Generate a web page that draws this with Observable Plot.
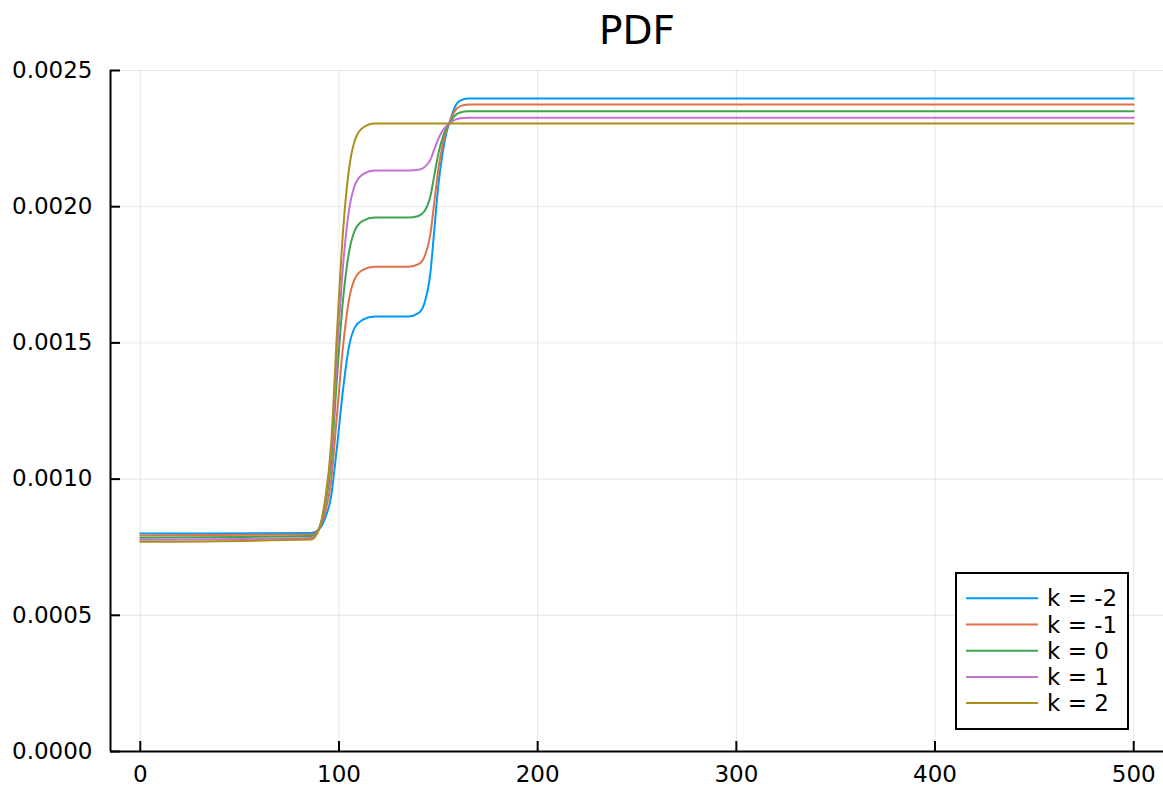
<!DOCTYPE html>
<html>
<head>
<meta charset="utf-8">
<script src="https://cdn.jsdelivr.net/npm/d3@7"></script>
<script src="https://cdn.jsdelivr.net/npm/@observablehq/plot@0.6"></script>
<style>
  html, body { margin: 0; padding: 0; background: #fff; }
  #wrap { position: relative; width: 1163px; height: 786px; font-family: "DejaVu Sans", sans-serif; }
  #legend { position: absolute; left: 955px; top: 572px; }
</style>
</head>
<body>
<div id="wrap"></div>
<script>
// ---- data ----
const title = "PDF";
const seriesNames = ["k = -2", "k = -1", "k = 0", "k = 1", "k = 2"];
const seriesColors = ["#009AFA", "#E36F47", "#3EA44E", "#C371D2", "#AC8E18"];

const xs = [0, 86, 90, 93, 96, 99, 102, 105, 108, 112, 118, 135, 140, 143, 146, 148, 150, 152, 154, 156, 158, 161, 165, 500];

const kMinus2 = [0.000800, 0.000802, 0.000816, 0.000856, 0.000935, 0.001119, 0.001326, 0.001485, 0.001557, 0.001585, 0.001597, 0.001597, 0.001609, 0.001645, 0.001757, 0.001917, 0.002077, 0.002189, 0.002269, 0.002317, 0.002361, 0.002389, 0.002397, 0.002397];
const kMinus1 = [0.000793, 0.000797, 0.000818, 0.000877, 0.000990, 0.001237, 0.001484, 0.001657, 0.001736, 0.001768, 0.001780, 0.001780, 0.001789, 0.001816, 0.001899, 0.002018, 0.002137, 0.002220, 0.002280, 0.002316, 0.002348, 0.002369, 0.002375, 0.002375];
const k0 = [0.000785, 0.000791, 0.000820, 0.000903, 0.001055, 0.001373, 0.001655, 0.001831, 0.001913, 0.001948, 0.001960, 0.001960, 0.001966, 0.001983, 0.002038, 0.002116, 0.002194, 0.002249, 0.002288, 0.002311, 0.002332, 0.002346, 0.002350, 0.002350];
const k1 = [0.000777, 0.000784, 0.000818, 0.000913, 0.001089, 0.001455, 0.001780, 0.001984, 0.002079, 0.002119, 0.002133, 0.002133, 0.002136, 0.002145, 0.002172, 0.002211, 0.002249, 0.002277, 0.002296, 0.002308, 0.002318, 0.002325, 0.002327, 0.002327];
const k2 = [0.000770, 0.000778, 0.000816, 0.000924, 0.001123, 0.001538, 0.001906, 0.002136, 0.002244, 0.002290, 0.002305, 0.002305, 0.002305, 0.002305, 0.002305, 0.002305, 0.002305, 0.002305, 0.002305, 0.002305, 0.002305, 0.002305, 0.002305, 0.002305];

const xTicks = [0, 100, 200, 300, 400, 500];
const yTicks = [0, 0.0005, 0.0010, 0.0015, 0.0020, 0.0025];
const xDomain = [-15, 515];
const yDomain = [0, 0.0025];

// ---- build long table ----
const seriesValues = [kMinus2, kMinus1, k0, k1, k2];
const rows = [];
seriesValues.forEach((vals, i) => {
  vals.forEach((v, j) => rows.push({k: seriesNames[i], x: xs[j], y: v}));
});

const fontSize = 23;

const chart = Plot.plot({
  width: 1163,
  height: 786,
  marginLeft: 110,
  marginRight: 0,
  marginTop: 70,
  marginBottom: 35,
  style: {fontFamily: "DejaVu Sans, sans-serif", fontSize: fontSize + "px", color: "#000", background: "#fff"},
  x: {domain: xDomain, label: null},
  y: {domain: yDomain, label: null},
  color: {domain: seriesNames, range: seriesColors},
  marks: [
    Plot.gridX(xTicks, {stroke: "#000", strokeOpacity: 0.1, strokeWidth: 1}),
    Plot.gridY(yTicks, {stroke: "#000", strokeOpacity: 0.1, strokeWidth: 1}),
    Plot.line(rows, {x: "x", y: "y", z: "k", stroke: "k", strokeWidth: 2, curve: "monotone-x"}),
    Plot.ruleY([yDomain[0]], {stroke: "#000", strokeWidth: 2}),
    Plot.ruleX([xDomain[0]], {stroke: "#000", strokeWidth: 2}),
    Plot.axisX(xTicks, {tickSize: 0, tickPadding: 14, tickFormat: d3.format("d"), label: null, fontSize}),
    Plot.axisY(yTicks, {tickSize: 0, tickPadding: 18, tickFormat: d3.format(".4f"), label: null, fontSize}),
    Plot.axisX(xTicks, {tickSize: -10, text: null, label: null, strokeWidth: 2}),
    Plot.axisY(yTicks, {tickSize: -10, text: null, label: null, strokeWidth: 2}),
    Plot.text([title], {frameAnchor: "top", lineAnchor: "middle", dy: -39, fontSize: 39, fill: "#000"})
  ]
});

const wrap = document.getElementById("wrap");
wrap.appendChild(chart);

// ---- legend (HTML/SVG overlay) ----
const legW = 174, legH = 158;
const leg = d3.create("svg").attr("id", "legend").attr("width", legW).attr("height", legH)
  .style("font-family", "DejaVu Sans, sans-serif");
leg.append("rect").attr("x", 1).attr("y", 1).attr("width", legW - 2).attr("height", legH - 2)
  .attr("fill", "#fff").attr("stroke", "#000").attr("stroke-width", 2);
const rowY = i => 26.3 + i * 26.2;
seriesNames.forEach((name, i) => {
  leg.append("line").attr("x1", 11).attr("x2", 83).attr("y1", rowY(i)).attr("y2", rowY(i))
    .attr("stroke", seriesColors[i]).attr("stroke-width", 2);
  leg.append("text").attr("x", 92).attr("y", rowY(i)).attr("dy", "0.35em")
    .attr("font-size", fontSize).attr("fill", "#000").text(name);
});
wrap.appendChild(leg.node());
</script>
</body>
</html>
